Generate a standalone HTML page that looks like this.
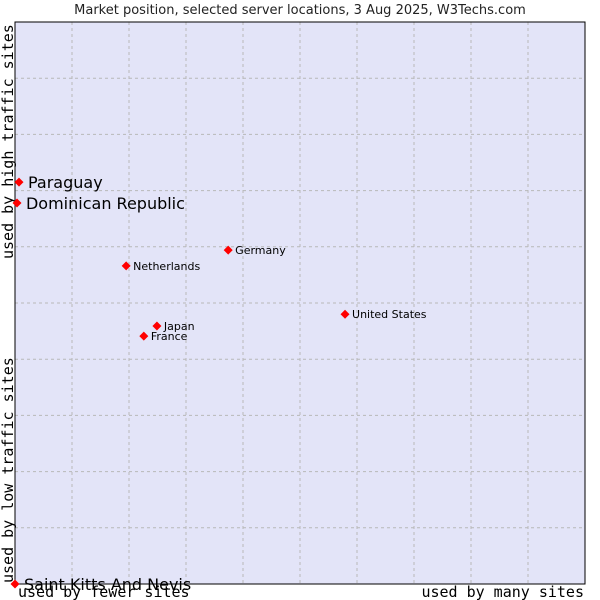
<!DOCTYPE html>
<html><head><meta charset="utf-8"><style>
body{margin:0;background:#fff;}
svg{display:block;}
</style></head><body>
<svg id="chart" width="600" height="600" xmlns="http://www.w3.org/2000/svg">
<rect x="0" y="0" width="600" height="600" fill="#fff"/>
<text x="300" y="14" text-anchor="middle" font-family="DejaVu Sans, sans-serif" font-size="13" fill="#222">Market position, selected server locations, 3 Aug 2025, W3Techs.com</text>
<rect x="15" y="22" width="570" height="562" fill="#e3e4f8"/>
<g id="grid"></g>
<rect x="15" y="22" width="570" height="562" fill="none" stroke="#000" stroke-width="1"/>
<text transform="translate(13,259) rotate(-90)" font-family="DejaVu Sans Mono, Liberation Mono, monospace" font-size="15" fill="#000">used by high traffic sites</text>
<text transform="translate(13,583) rotate(-90)" font-family="DejaVu Sans Mono, Liberation Mono, monospace" font-size="15" fill="#000">used by low traffic sites</text>
<text x="18" y="597" font-family="DejaVu Sans Mono, Liberation Mono, monospace" font-size="15" fill="#000">used by fewer sites</text>
<text x="584" y="597" text-anchor="end" font-family="DejaVu Sans Mono, Liberation Mono, monospace" font-size="15" fill="#000">used by many sites</text>
<g id="points"></g>
</svg>
<script>
const countries = ["Paraguay","Dominican Republic","Saint Kitts And Nevis","Germany","Netherlands","United States","Japan","France"];
const xValues = [0.7,0.35,0,37.4,19.5,57.9,24.9,22.6];
const yValues = [71.5,67.8,0,59.4,56.6,48.0,45.9,44.1];
const highlighted = [true,true,true,false,false,false,false,false];
const NS="http://www.w3.org/2000/svg";
const L=15,R=585,T=22,B=584;
function xs(v){return L+(R-L)*v/100;}
function ys(v){return B-(B-T)*v/100;}
const grid=document.getElementById('grid');
for(let i=1;i<10;i++){
  const l=document.createElementNS(NS,'line');
  l.setAttribute('x1',xs(i*10));l.setAttribute('x2',xs(i*10));l.setAttribute('y1',T);l.setAttribute('y2',B);
  l.setAttribute('stroke','#b8b8b8');l.setAttribute('stroke-dasharray','3,3');
  
  
  grid.appendChild(l);
  const h=document.createElementNS(NS,'line');
  h.setAttribute('y1',ys(i*10));h.setAttribute('y2',ys(i*10));h.setAttribute('x1',L);h.setAttribute('x2',R);
  h.setAttribute('stroke','#b8b8b8');h.setAttribute('stroke-dasharray','3,3');
  
  
  grid.appendChild(h);
}
const pts=document.getElementById('points');
countries.forEach((c,i)=>{
  const x=xs(xValues[i]),y=ys(yValues[i]);
  const g=document.createElementNS(NS,'g');
  
  
  const d=document.createElementNS(NS,'polygon');
  const r=4.5;
  d.setAttribute('points',`${x},${y-r} ${x+r},${y} ${x},${y+r} ${x-r},${y}`);
  d.setAttribute('fill','#ff0000');
  
  
  g.appendChild(d);
  const t=document.createElementNS(NS,'text');
  const big=highlighted[i];
  t.setAttribute('x',x+(big?9:7));
  t.setAttribute('y',y+(big?6:4));
  t.setAttribute('font-family','DejaVu Sans, sans-serif');
  t.setAttribute('font-size',big?16:11);
  t.setAttribute('fill','#000');
  t.textContent=c;
  
  
  g.appendChild(t);
  pts.appendChild(g);
});
</script>
</body></html>
